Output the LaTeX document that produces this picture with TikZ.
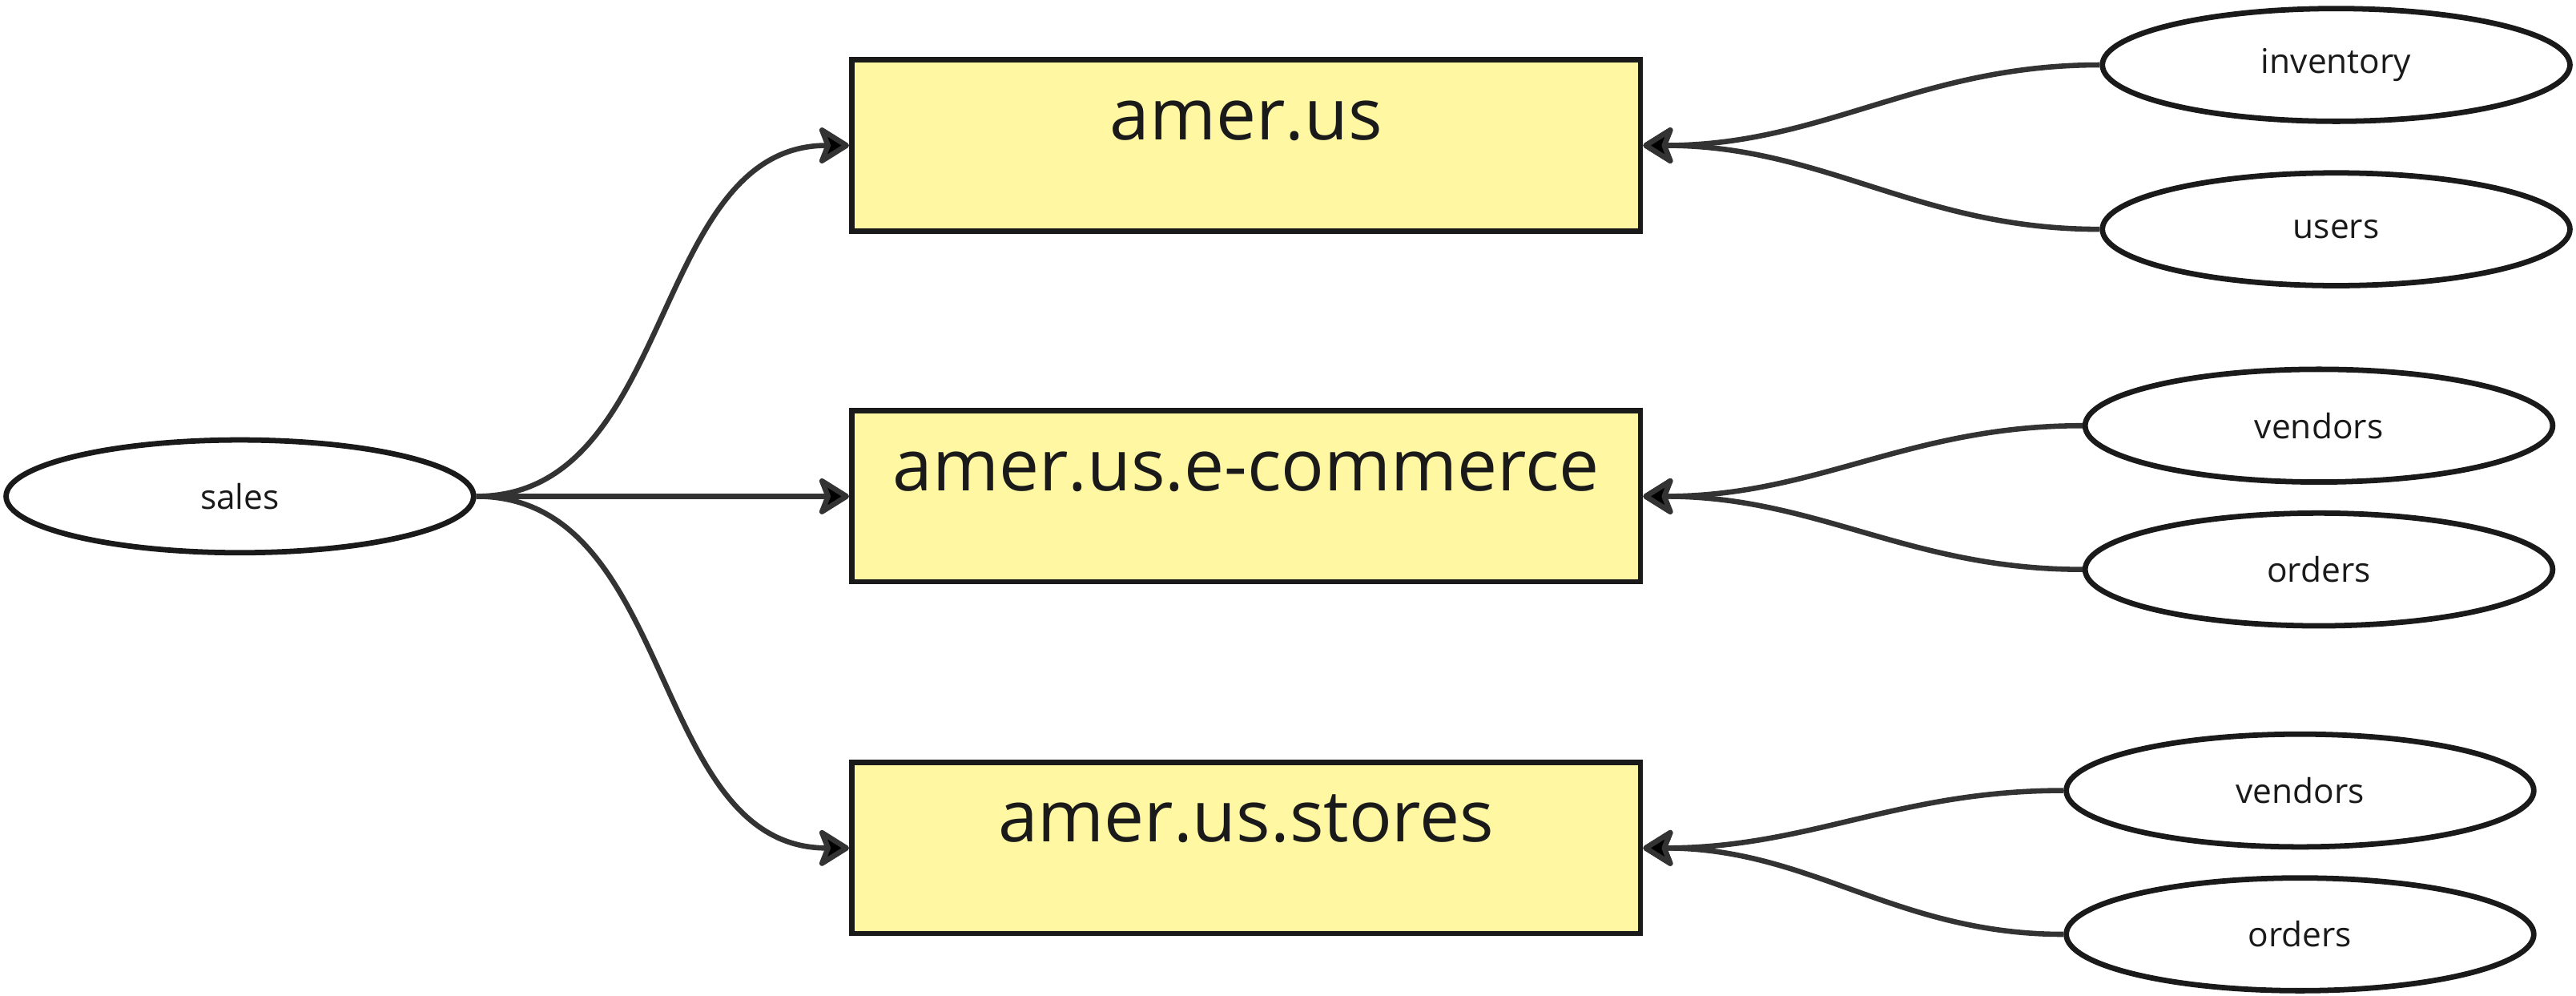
\documentclass[tikz,border=0pt]{standalone}
\usepackage{fontspec}
\setmainfont{Open Sans}
\usepackage{tikz}
\usetikzlibrary{arrows.meta}
\usetikzlibrary{shapes.geometric}
\definecolor{boxfill}{RGB}{255,247,161}
\definecolor{edgegray}{RGB}{51,51,51}
\definecolor{inkblack}{RGB}{26,26,26}

\begin{document}
\begin{tikzpicture}[
            x = 1pt, y = -1pt, % one unit per reference pixel
            semithick
        ]

        \tikzstyle{table}=[
            rectangle,
            draw = inkblack,
            fill = boxfill,
            line width = 3.3pt,
            inner sep = 0pt,
            minimum width = 480pt,
            text height = 48.4pt,
            text depth = 55.6pt,
            text = inkblack,
            font = \fontsize{43.5}{52}\selectfont
        ]
        \tikzstyle{field}=[
            ellipse,
            draw = inkblack,
            fill = white,
            line width = 3.3pt,
            inner sep = 0pt,
            minimum width = 284.6pt,
            minimum height = 68.6pt,
            text = inkblack,
            font = \fontsize{20.7}{25}\selectfont
        ]
        \tikzstyle{link}=[
            -{Stealth[length=21pt, width=26pt, inset=5pt, round]}, % arrow head style
            draw = edgegray,
            line width = 3.2pt
        ]

        \useasboundingbox (0,0) rectangle (1568,606);

        % tables
        \node[table] (us) at (758.5,88.5) {amer.us};
        \node[table] (ecom) at (758.5,302) {amer.us.e-commerce};
        \node[table] (stores) at (758.5,516) {amer.us.stores};

        % source
        \node[field] (sales) at (146,302) {sales};

        \path[link] (sales) edge[out=0, in=180] (us);
        \path[link] (sales) edge[out=0, in=180] (ecom);
        \path[link] (sales) edge[out=0, in=180] (stores);

        % fields
        \node[field] (inventory) at (1422,39.5) {inventory};
        \node[field] (users) at (1422,139.5) {users};
        \node[field] (vendorsA) at (1411.5,259) {vendors};
        \node[field] (ordersA) at (1411.5,346.5) {orders};
        \node[field] (vendorsB) at (1400,481) {vendors};
        \node[field] (ordersB) at (1400,568.5) {orders};

        \path[link] (inventory) edge[out=180, in=0] (us);
        \path[link] (users) edge[out=180, in=0] (us);
        \path[link] (vendorsA) edge[out=180, in=0] (ecom);
        \path[link] (ordersA) edge[out=180, in=0] (ecom);
        \path[link] (vendorsB) edge[out=180, in=0] (stores);
        \path[link] (ordersB) edge[out=180, in=0] (stores);

\end{tikzpicture}
\end{document}
